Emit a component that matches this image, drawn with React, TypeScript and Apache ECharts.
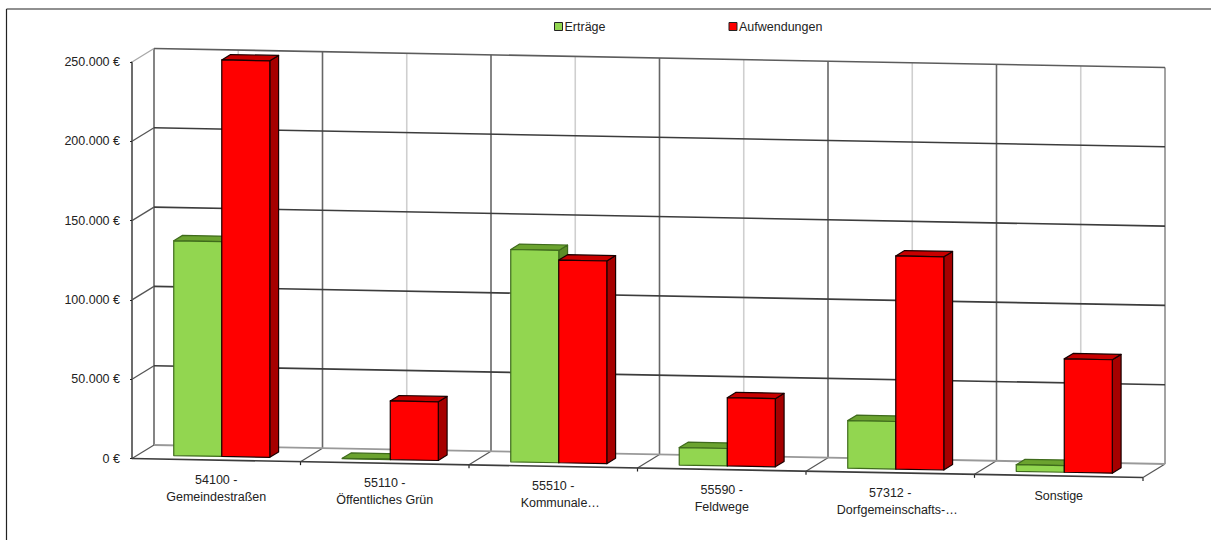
import React, { useEffect, useRef } from "react";
import * as echarts from "echarts";

const categories = [
  "54100 -\nGemeindestraßen",
  "55110 -\nÖffentliches Grün",
  "55510 -\nKommunale…",
  "55590 -\nFeldwege",
  "57312 -\nDorfgemeinschafts-…",
  "Sonstige",
];
const ertraege = [135400, 250, 133900, 11000, 30000, 4200];
const aufwendungen = [250000, 37000, 127800, 43000, 134400, 71500];
const yTicks = [0, 50000, 100000, 150000, 200000, 250000];

const FONT = "Liberation Sans";
const SLOPE = 0.0188;
const DX = 22;
const DY = -13.5;
const D_FRONT = 0.27;
const D_BACK = 0.67;
const BAR_FRAC = 0.285;
const GAP_FRAC = 0.2125;

function project(api: any, catFrac: number, value: number, depth: number) {
  const band = api.size([1, 0])[0];
  const first = api.coord([0, value]);
  const startX = first[0] - band / 2;
  const x = startX + catFrac * band;
  const y = first[1] + SLOPE * (x - startX);
  return [x + DX * depth, y + DY * depth];
}

function renderFrame(_params: any, api: any) {
  const n = categories.length;
  const children: any[] = [];
  const line = (a: number[], b: number[], stroke: string, lineWidth: number) =>
    children.push({ type: "line", shape: { x1: a[0], y1: a[1], x2: b[0], y2: b[1] }, style: { stroke, lineWidth } });
  const top = yTicks[yTicks.length - 1];
  for (let i = 0; i < n; i++) {
    line(project(api, i + 0.5, 0, 1), project(api, i + 0.5, top, 1), "#cfcfcf", 1.6);
  }
  for (let i = 0; i <= n; i++) {
    line(project(api, i, 0, 1), project(api, i, top, 1), "#666666", i === n ? 1.2 : 1.6);
    line(project(api, i, 0, 0), project(api, i, 0, 1), "#555555", 1.2);
    if (i > 0) {
      const p = project(api, i, 0, 0);
      line(p, [p[0], p[1] + 3.5], "#222222", 1.2);
    }
  }
  yTicks.forEach((v) => {
    const stroke = v === 0 ? "#999999" : v === top ? "#5c5c5c" : "#3c3c3c";
    line(project(api, 0, v, 1), project(api, n, v, 1), stroke, v === 0 ? 1.8 : 1.6);
    if (v !== 0) line(project(api, 0, v, 0), project(api, 0, v, 1), v === top ? "#a8a8a8" : "#555555", 1.3);
  });
  line(project(api, 0, 0, 0), project(api, n, 0, 0), "#3c3c3c", 1.6);
  return { type: "group", children };
}

function barRenderer(seriesIdx: number, front: string, top: string, side: string, edge: string) {
  return (_params: any, api: any) => {
    const i = api.value(0);
    const v = api.value(1);
    const l = i + GAP_FRAC + seriesIdx * BAR_FRAC;
    const r = l + BAR_FRAC;
    const poly = (pts: number[][], fill: string) => ({
      type: "polygon",
      shape: { points: pts },
      style: { fill, stroke: edge, lineWidth: 1.2, lineJoin: "round" },
    });
    return {
      type: "group",
      children: [
        poly(
          [project(api, r, 0, D_FRONT), project(api, r, 0, D_BACK), project(api, r, v, D_BACK), project(api, r, v, D_FRONT)],
          side
        ),
        poly(
          [project(api, l, v, D_FRONT), project(api, r, v, D_FRONT), project(api, r, v, D_BACK), project(api, l, v, D_BACK)],
          top
        ),
        poly(
          [project(api, l, 0, D_FRONT), project(api, r, 0, D_FRONT), project(api, r, v, D_FRONT), project(api, l, v, D_FRONT)],
          front
        ),
      ],
    };
  };
}

function renderLabel(_params: any, api: any) {
  const i = api.value(0);
  const p = project(api, i + 0.5, 0, 0);
  return {
    type: "group",
    children: categories[i].split("\n").map((text, k) => ({
      type: "text",
      style: {
        text,
        x: p[0] + (text.endsWith("…") ? 7 : 0),
        y: p[1] + 20 + k * 17,
        align: "center",
        verticalAlign: "middle",
        fill: "#222222",
        font: `12.5px "${FONT}"`,
      },
    })),
  };
}

export default function App() {
  const ref = useRef<HTMLDivElement>(null);
  useEffect(() => {
    document.body.style.margin = "0";
    const chart = echarts.init(ref.current!, undefined, { renderer: "svg" });
    chart.setOption({
      animation: false,
      backgroundColor: "#ffffff",
      textStyle: { fontFamily: FONT },
      graphic: [
        { type: "line", shape: { x1: 6.5, y1: 9, x2: 1211, y2: 9 }, style: { stroke: "#222222", lineWidth: 1.2 } },
        { type: "line", shape: { x1: 6.5, y1: 9, x2: 6.5, y2: 540 }, style: { stroke: "#222222", lineWidth: 1.2 } },
      ],
      legend: {
        data: ["Erträge", "Aufwendungen"],
        left: 554,
        top: 20,
        padding: 0,
        icon: "rect",
        itemWidth: 8,
        itemHeight: 8,
        itemGap: 123,
        selectedMode: false,
        itemStyle: { borderColor: "#222222", borderWidth: 1 },
        textStyle: { fontFamily: FONT, fontSize: 12.5, color: "#222222", padding: [0, 0, 0, -3] },
      },
      grid: { left: 132, top: 62, width: 1011, height: 396.5, containLabel: false },
      xAxis: {
        type: "category",
        data: categories,
        axisLine: { show: false },
        axisTick: { show: false },
        axisLabel: { show: false },
        splitLine: { show: false },
      },
      yAxis: {
        type: "value",
        min: 0,
        max: 250000,
        interval: 50000,
        axisLine: { show: true, lineStyle: { color: "#3c3c3c", width: 1.5 } },
        axisTick: { show: true, length: 2, lineStyle: { color: "#222222" } },
        splitLine: { show: false },
        axisLabel: {
          margin: 12,
          fontFamily: FONT,
          fontSize: 12.5,
          color: "#222222",
          formatter: (v: number) => `${String(v).replace(/\B(?=(\d{3})+$)/g, ".")} €`,
        },
      },
      series: [
        { type: "custom", name: "frame", z: 1, silent: true, clip: false, renderItem: renderFrame, encode: { x: 0, y: 1 }, data: [[0, 0]] },
        {
          type: "custom",
          name: "Erträge",
          z: 2,
          clip: false,
          itemStyle: { color: "#92D650" },
          renderItem: barRenderer(0, "#92D650", "#6BA32F", "#5C8C28", "#3F6B1C"),
          encode: { x: 0, y: 1 },
          data: ertraege.map((v, i) => [i, v]),
        },
        {
          type: "custom",
          name: "Aufwendungen",
          z: 3,
          clip: false,
          itemStyle: { color: "#FF0000" },
          renderItem: barRenderer(1, "#FF0000", "#C80000", "#A60000", "#1a0000"),
          encode: { x: 0, y: 1 },
          data: aufwendungen.map((v, i) => [i, v]),
        },
        { type: "custom", name: "labels", z: 4, silent: true, clip: false, renderItem: renderLabel, encode: { x: 0, y: 1 }, data: categories.map((_, i) => [i, 0]) },
      ],
    });
    return () => chart.dispose();
  }, []);
  return <div ref={ref} style={{ position: "absolute", left: 0, top: 0, width: 1211, height: 540 }} />;
}
